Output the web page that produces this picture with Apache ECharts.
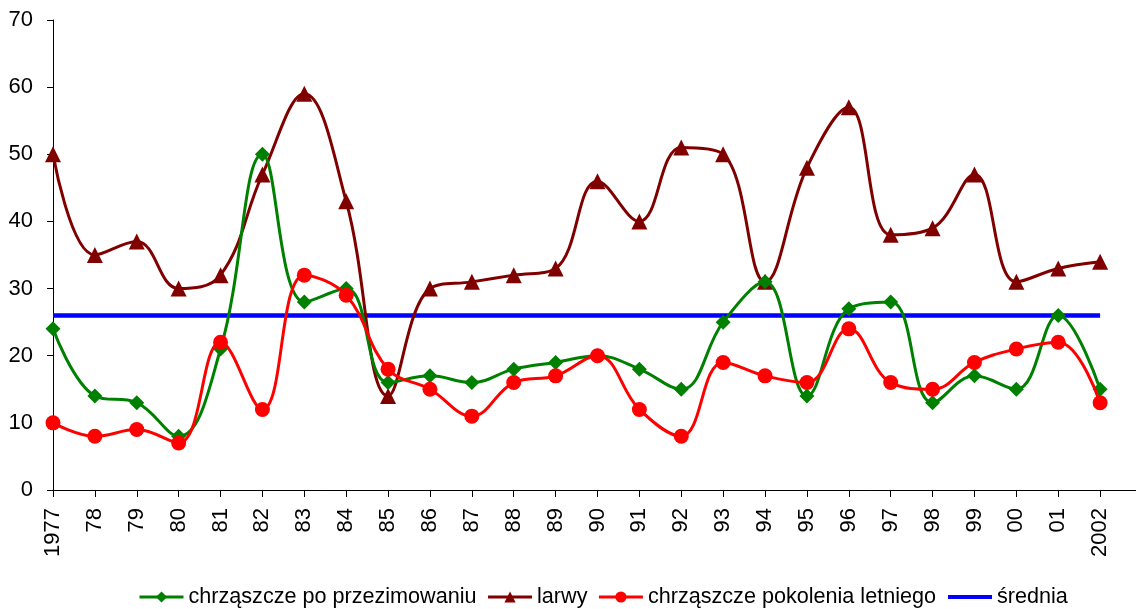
<!DOCTYPE html>
<html><head><meta charset="utf-8">
<script src="https://cdn.jsdelivr.net/npm/echarts@6/dist/echarts.min.js"></script>
<style>html,body{margin:0;padding:0;background:#fff;overflow:hidden;width:1136px;height:609px}#c{width:1142px;height:609px}</style>
</head><body><div id="c"></div>
<script>
const categories = ['1977','78','79','80','81','82','83','84','85','86','87','88','89','90','91','92','93','94','95','96','97','98','99','00','01','2002'];
const poPrzezimowaniu = [24,14,13,8,21,50,28,30,16,17,16,18,19,20,18,15,25,31,14,27,28,13,17,15,26,15];
const larwy = [50,35,37,30,32,47,59,43,14,30,31,32,33,46,40,51,50,31,48,57,38,39,47,31,33,34];
const pokoleniaLetniego = [10,8,9,7,22,12,32,29,18,15,11,16,17,20,12,8,19,17,16,24,16,15,19,21,22,13];
const sredniaValue = 26;
const srednia = categories.map(() => sredniaValue);

// axis continues a little past the last year (as in the original chart)
const axisCategories = categories.concat(['']);

const font = 'Liberation Sans, Arial, sans-serif';
const chart = echarts.init(document.getElementById('c'));
chart.setOption({
  animation: false,
  backgroundColor: '#fff',
  grid: { left: 53, right: 0, top: 20, bottom: 119 },
  legend: {
    left: 133, top: 581, itemWidth: 44, itemHeight: 14, itemGap: 10,
    textStyle: { fontFamily: font, fontSize: 21.6, color: '#000' },
    lineStyle: { width: 3 },
    data: [
      'chrząszcze po przezimowaniu',
      'larwy',
      'chrząszcze pokolenia letniego',
      { name: 'średnia', itemStyle: { opacity: 0 }, lineStyle: { width: 4 } }
    ]
  },
  xAxis: {
    type: 'category', data: axisCategories, boundaryGap: false,
    axisLine: { lineStyle: { color: '#000', width: 1 } },
    axisTick: { length: 7, lineStyle: { color: '#000' }, interval: 0 },
    axisLabel: { rotate: 90, interval: 0, fontFamily: font, fontSize: 22, color: '#000', margin: 18 }
  },
  yAxis: {
    type: 'value', min: 0, max: 70, interval: 10,
    axisLine: { show: true, lineStyle: { color: '#000', width: 1 } },
    axisTick: { show: true, length: 6, lineStyle: { color: '#000' } },
    splitLine: { show: false },
    axisLabel: { fontFamily: font, fontSize: 22, color: '#000', margin: 20 }
  },
  series: [
    { name: 'chrząszcze po przezimowaniu', type: 'line', data: poPrzezimowaniu, smooth: 0.4,
      symbol: 'diamond', symbolSize: 15, itemStyle: { color: '#008000' }, lineStyle: { color: '#008000', width: 3 }, z: 3 },
    { name: 'larwy', type: 'line', data: larwy, smooth: 0.4,
      symbol: 'triangle', symbolSize: 16, itemStyle: { color: '#800000' }, lineStyle: { color: '#800000', width: 3 }, z: 2 },
    { name: 'chrząszcze pokolenia letniego', type: 'line', data: pokoleniaLetniego, smooth: 0.4,
      symbol: 'circle', symbolSize: 15, itemStyle: { color: '#FF0000' }, lineStyle: { color: '#FF0000', width: 3 }, z: 4 },
    { name: 'średnia', type: 'line', data: srednia, symbol: 'none', showSymbol: false,
      itemStyle: { color: '#0000FF' }, lineStyle: { color: '#0000FF', width: 4.5 }, z: 1 }
  ]
});
</script></body></html>
